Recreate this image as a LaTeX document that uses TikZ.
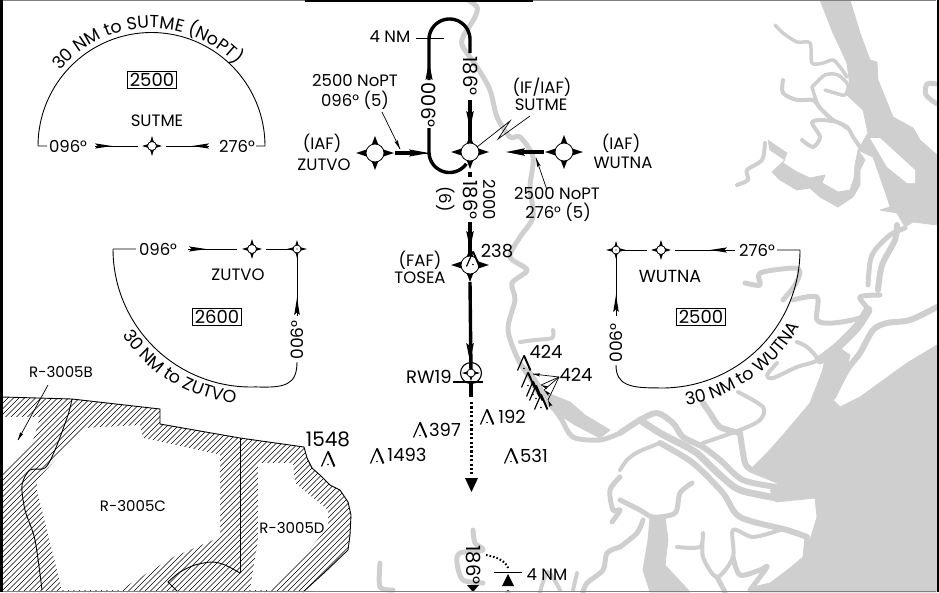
\documentclass[tikz,border=0pt]{standalone}
\usepackage{fontspec}
\setmainfont{Poppins}
\usetikzlibrary{decorations.text}
\definecolor{water}{HTML}{CFCFCF}
\newcommand\chartfont{\fontsize{16.5}{18}\selectfont}
\newcommand\arcfont{\fontsize{17.5}{19}\selectfont}
\newcommand\fixm[5]{% name, radius, Lx, Ly, dot
  \fill[shift={(#1)}] (#3,0)--({.52*#2},{.52*#2})--(0,#4)--({-.52*#2},{.52*#2})--(-#3,0)--({-.52*#2},{-.52*#2})--(0,-#4)--({.52*#2},{-.52*#2})--cycle;
  \draw[fill=white,line width=.8] (#1) circle[radius=#2];
  #5}
\newcommand\ahd[4]{\fill[shift={(#1)},rotate=#2] (0,0)--(-#3,#4)--({-.85*#3},0)--(-#3,-#4)--cycle;}
\newcommand\obst[2]{\begin{scope}[shift={(#1,#2)}]
  \draw[line width=1.2] (-6.5,7.5)--(0,-7.5);\draw[line width=1.9] (0,-7.5)--(6.5,7.5);\fill (0,5.5) circle[radius=.9];\end{scope}}
\tikzset{
  river/.style={draw=water,line width=#1,line join=round,line cap=round},
  land/.style={fill=water,draw=water,line width=.8,line join=round},
  thick course/.style={line width=3.4},
  thin course/.style={line width=.9},
  lead/.style={line width=.7},
  hatchline/.style={line width=.6},
  bound/.style={line width=.9},
  minbox/.style={draw,line width=.8,minimum width=49,minimum height=17,inner sep=0,font=\fontsize{18}{18}\selectfont},
  bignum/.style={font=\fontsize{18}{20}\selectfont},
  course/.style={rotate=#1,font=\fontsize{19.5}{21}\selectfont},
  arealabel/.style={font=\fontsize{15}{17}\selectfont},
  every node/.style={font=\chartfont,inner sep=1},
}
\begin{document}
\begin{tikzpicture}[x=1pt,y=-1pt]
\chartfont
\useasboundingbox (0,0) rectangle (939,592);
% water
\fill[land] (820,0)--(850,0)--(860,33)--(870,60)--(877,62)--(878,80)--(893,117)--(913,128)--(920,140)--(937,155)--(937,225)--(913,222)--(905,227)--(897,213)--(880,210)--(890,207)--(887,197)--(873,157)--(858,150)--(868,133)--(863,110)--(847,95)--(850,87)--(847,63)--(833,33)--cycle;
\fill[white] (870,138)--(880,138)--(915,170)--(915,183)--(907,183)--(887,167)--cycle;
\fill[land] (768,140)--(775,145)--(787,153)--(783,163)--(797,172)--(810,178)--(825,175)--(822,183)--(838,192)--(850,190)--(854,178)--(855,165)--(858,150)--(865,160)--(860,170)--(860,185)--(853,197)--(838,207)--(820,197)--(810,188)--(797,190)--(780,180)--(772,172)--(785,160)--(770,150)--cycle;
\fill[land] (937,345)--(907,363)--(860,397)--(840,407)--(830,397)--(847,368)--(850,355)--(838,347)--(825,360)--(822,372)--(810,403)--(783,435)--(767,453)--(753,467)--(750,472)--(777,483)--(778,488)--(770,490)--(776,502)--(815,498)--(817,517)--(810,540)--(805,537)--(803,557)--(790,568)--(770,583)--(753,587)--(750,592)--(937,592)--cycle;
\fill[land] (650,517)--(665,517)--(668,540)--(665,565)--(690,592)--(650,592)--(643,570)--(648,540)--cycle;
\draw[river=3.5] plot[smooth] coordinates {(775,25)(783,33)(797,42)(810,43)(812,63)(823,63)(833,60)(840,67)(847,77)};
\draw[river=4] plot[smooth] coordinates {(783,80)(783,93)(797,100)(813,100)(820,108)(833,120)(847,127)(853,137)(860,147)};
\draw[river=3.5] plot[smooth] coordinates {(812,87)(825,75)(838,75)(848,85)(845,95)(835,93)(825,90)};
\draw[river=3.5] plot[smooth] coordinates {(812,87)(816,100)(820,108)};
\draw[river=4] plot[smooth] coordinates {(802,140)(813,147)(820,137)(812,123)(820,120)(837,122)(847,128)};
\draw[river=4] plot[smooth] coordinates {(765,143)(762,160)(747,170)(748,180)(737,185)};
\draw[river=5] plot[smooth] coordinates {(937,84)(927,84)(926,95)(937,104)};
\draw[river=5] plot[smooth] coordinates {(905,228)(890,235)(875,250)(870,262)(868,285)};
\draw[river=6] plot[smooth] coordinates {(897,225)(895,240)(882,265)(878,290)};
\draw[river=5] plot[smooth] coordinates {(745,283)(760,285)(760,273)(793,268)(800,272)(795,285)(783,300)};
\draw[river=5] plot[smooth] coordinates {(793,300)(817,297)(817,320)(833,323)(860,318)(868,310)(860,297)(880,295)};
\draw[river=9] plot[smooth] coordinates {(868,310)(857,327)(837,347)(820,360)};
\draw[river=6] plot[smooth] coordinates {(937,307)(910,320)(887,323)(873,330)(860,353)(847,370)(833,397)};
\draw[river=4] plot[smooth] coordinates {(797,342)(807,347)(817,360)(797,367)(773,378)(767,375)(777,363)};
\draw[river=4] plot[smooth] coordinates {(738,392)(763,407)(760,420)(740,430)(703,443)};
\draw[river=6] plot[smooth] coordinates {(703,403)(710,413)(720,427)(740,433)};
\draw[river=6] plot[smooth] coordinates {(740,433)(745,463)(752,470)};
\draw[river=6] plot[smooth] coordinates {(620,433)(640,420)(657,413)(673,423)(683,437)(703,447)(720,460)(743,480)(777,487)};
\draw[river=7] plot[smooth] coordinates {(640,420)(660,433)(687,447)(697,453)(720,475)(740,490)(777,498)};
\draw[river=6] plot[smooth] coordinates {(660,443)(693,463)(723,493)(740,517)(787,530)(807,537)};
\draw[river=4] plot[smooth] coordinates {(620,470)(627,460)(638,452)(660,443)};
\draw[river=5] plot[smooth] coordinates {(692,483)(680,493)(675,513)(653,517)(640,510)(620,500)};
\draw[river=5] plot[smooth] coordinates {(620,547)(637,533)(643,520)};
\draw[river=4] plot[smooth] coordinates {(677,547)(700,547)(703,533)(703,557)(717,577)(733,557)(733,530)(753,537)(780,530)};
\draw[river=5] plot[smooth] coordinates {(717,577)(725,592)};
\draw[river=5] plot[smooth] coordinates {(733,557)(740,575)(760,570)(767,567)(750,590)};
\draw[river=5] plot[smooth] coordinates {(468,0)(477,7)(475,17)(463,37)(463,47)(477,67)(490,90)(497,117)(510,137)(520,137)(533,157)(530,187)(533,217)(520,237)(510,257)(527,270)(512,283)(515,300)(508,330)(520,363)(540,390)(560,417)(573,437)(600,440)(620,433)};
\fill[land] (520,362)--(532,372)--(545,392)--(570,402)--(585,415)--(610,430)--(600,438)--(575,425)--(552,410)--(535,392)--cycle;
\draw[river=4] plot[smooth] coordinates {(553,330)(552,338)(535,340)(520,342)};
\draw[river=5] plot[smooth] coordinates {(473,530)(475,543)(483,550)(460,553)(457,563)(463,580)(483,583)};
\draw[river=5] plot[smooth] coordinates {(380,563)(380,587)(393,590)};
\draw[river=5] plot[smooth] coordinates {(620,477)(610,490)(613,510)(620,510)(612,522)};
\draw[river=5] plot[smooth] coordinates {(620,547)(607,553)(603,570)(587,583)(583,592)};
\draw[river=4] plot[smooth] coordinates {(577,573)(573,590)};
\draw[river=4] plot[smooth] coordinates {(540,592)(548,572)(560,590)};
% restricted areas
\begin{scope}
\clip (3,397)--(72,399)--(160,409)--(160,424)--(240,438)--(304,447)--(307,458)--(312,468)--(320,475)--(330,485)--(340,490)--(348,502)--(351,515)--(350,535)--(348,550)--(325,572)--(303,592)--(3,592)--cycle;
\foreach \i in {-260,-254.5,...,360} \draw[hatchline] (\i,600)--++(260,-260);
\end{scope}
\fill[white] (85,428)--(140,425)--(143,438)--(220,455)--(220,537)--(173,557)--(120,590)--(62,590)--(37,490)--(37,480)--cycle;
\fill[white] (258,463)--(293,463)--(295,483)--(328,510)--(328,527)--(300,560)--(270,590)--(250,590)--(258,540)--cycle;
\fill[white] (3,417)--(40,417)--(33,440)--(3,472)--cycle;
\draw[bound] (3,397)--(72,399)--(160,409)--(160,424)--(240,438)--(304,447)--(307,458)--(312,468)--(320,475)--(330,485)--(340,490)--(348,502)--(351,515)--(350,535)--(348,550)--(325,572)--(303,592);
\draw[bound] (240,438)--(240,573);
\draw[bound] plot[smooth] coordinates {(240,573)(225,565)(212,562)(195,565)(180,572)(168,582)} --(178,592);
\draw[bound] plot[smooth] coordinates {(72,399)(68,415)(55,450)(45,468)(30,470)(22,485)(25,510)(35,540)(42,590)};
\coordinate (rbs) at (48,385);\coordinate (rbe) at (18,440);
\draw[lead] (rbs)--(rbe);\ahd{rbe}{-118}{8}{1.8}
\node[arealabel] (rb) at (61,372) {R-3005B};
\node[arealabel] (rc) at (133,506) {R-3005C};
\node[arealabel] (rd) at (292,528) {R-3005D};
% SUTME entry sector
\begingroup\arcfont
\path[decorate,decoration={text along path,text align=center,text={30 NM to SUTME (NoPT)}}] plot[domain=172:12,samples=90] ({151+118*cos(\x)},{146-118*sin(\x)});
\path[decorate,decoration={text along path,text align=center,text={30 NM to ZUTVO}}] plot[domain=190:288,samples=70] ({251+155*cos(\x)},{249-155*sin(\x)});
\path[decorate,decoration={text along path,text align=center,text={30 NM to WUTNA}}] plot[domain=255:355,samples=70] ({662+157*cos(\x)},{250-157*sin(\x)});
\endgroup
\draw[bound] (47,146)--(38,146) plot[domain=180:0,samples=80] ({151.5+113.5*cos(\x)},{146-113.5*sin(\x)}) --(256,146);
\node[minbox] (b1) at (152,80) {2500};
\node (s1) at (157,121) {SUTME};
\coordinate (fs) at (152,146);
\node (d1) at (68,146) {096°};
\node (d2) at (237,146) {276°};
\coordinate (a1) at (95,146);\coordinate (a2) at (112,146);\coordinate (a3) at (138,146);
\coordinate (c1) at (209,146);\coordinate (c2) at (192,146);\coordinate (c3) at (166,146);
\draw[thin course] (a1)--(a3) (c1)--(c3);\ahd{a2}{0}{17}{2.6}\ahd{c2}{180}{17}{2.6}
\fixm{fs}{4.5}{10}{10}{}
% ZUTVO sector
\coordinate (zc) at (113,249);
\draw[bound] (136,249)--(zc) plot[domain=180:272,samples=50] ({251+138*cos(\x)},{249-138*sin(\x)}) .. controls (285,388) and (297,385) .. (297,362);
\node (z1) at (158,249) {096°};
\coordinate (z2) at (188,249);\coordinate (z3) at (206,249);\coordinate (z4) at (237,249);\coordinate (fz1) at (252,249);\coordinate (z5) at (266,249);\coordinate (fz2) at (297,249);\coordinate (z6) at (290,249);\coordinate (z7) at (297,316);\coordinate (z8) at (297,298);
\draw[thin course] (z2)--(z4) (z5)--(z6) (fz2)--(z7);\ahd{z3}{0}{17}{2.6}\ahd{z8}{90}{17}{2.8}
\fixm{fz1}{4.5}{10}{10}{}
\fixm{fz2}{4}{10}{9}{\fill (fz2) circle[radius=.7];}
\node (z9) at (238,275) {ZUTVO};
\node[minbox] (b2) at (217,317) {2600};
\node[rotate=90,font=\fontsize{17}{18}\selectfont] (z10) at (297,340) {006°};
% WUTNA sector
\coordinate (wc) at (800,250);
\draw[bound] (777,250)--(wc) plot[domain=0:-92,samples=60] ({662+138*cos(\x)},{250-138*sin(\x)}) .. controls (630,388) and (616,385) .. (616,365);
\node (w1) at (757,250) {276°};
\coordinate (w2) at (735,250);\coordinate (w3) at (710,250);\coordinate (w4) at (675,250);\coordinate (fw1) at (661,250);\coordinate (w5) at (647,250);\coordinate (fw2) at (616,250);\coordinate (w6) at (623,250);\coordinate (w7) at (616,316);\coordinate (w8) at (616,295);
\draw[thin course] (w2)--(w4) (w5)--(w6) (fw2)--(w7);\ahd{w3}{180}{17}{2.6}\ahd{w8}{90}{17}{2.8}
\fixm{fw1}{4.5}{10}{10}{}
\fixm{fw2}{4}{10}{9}{\fill (fw2) circle[radius=.7];}
\node[font=\fontsize{17.5}{18}\selectfont] (w9) at (670,276) {WUTNA};
\node[minbox] (b3) at (701,317) {2500};
\node[rotate=90,font=\fontsize{17}{18}\selectfont] (w10) at (616,343) {006°};
% holding pattern and final
\coordinate (su) at (470,152);\coordinate (zu) at (375,153);\coordinate (wu) at (564,152);\coordinate (to) at (470,265);
\coordinate (hl1) at (429,80);\coordinate (hl2) at (429,39.5);\coordinate (hr1) at (470,39.5);\coordinate (hr2) at (470,53);
\draw[thick course] (hl1)--(hl2) plot[domain=180:0,samples=40] ({449.5+20.5*cos(\x)},{39.5-20.5*sin(\x)}) --(hr2);
\ahd{429,62}{90}{18}{3.6}
\coordinate (hr3) at (470,100);
\draw[thick course] (hr3)--(su);\ahd{470,129}{-90}{18}{3.8}
\coordinate (hl3) at (429,128);
\draw[thick course] (hl3)--(429,152) plot[domain=180:325,samples=30] ({449.5+20.5*cos(\x)},{152+20.5*sin(-\x+360)});
\coordinate (zt) at (395,153);\coordinate (zh) at (429,153);
\draw[thick course] (zt)--(415,153);\draw[line width=.9] (415,153)--(zh);\ahd{zh}{0}{20}{3.6}
\coordinate (wt) at (544,152);\coordinate (wh) at (506,152);
\draw[thick course] (wt)--(520,152);\ahd{wh}{180}{19}{3.8}
\coordinate (f1) at (470,172);\coordinate (f2) at (470,177);
\draw[thick course] (f1)--(f2);
\coordinate (f3) at (470,222);
\draw[thick course] (f3)--(to);\ahd{470,249}{-90}{18}{3.8}
\coordinate (f4) at (470,282);\coordinate (rw) at (471,373);
\draw[thick course] (f4)--(rw);\ahd{470,362}{-90}{19}{3.8}
\fixm{su}{9}{19}{17}{}
\fixm{zu}{9}{19}{17}{}
\fixm{wu}{9}{19}{17}{}
\fixm{to}{9}{19}{17}{}
\draw[line width=1.1] (rw) circle[radius=10.5];
\fixm{rw}{4}{9}{8}{}
\coordinate (bl) at (453,382);\coordinate (br) at (483,382);\coordinate (bm) at (471,382);\coordinate (bn) at (471,397);
\draw[line width=1.4] (bl)--(br);\draw[thick course] (bm)--(bn);
\coordinate (m1) at (471.5,402);\coordinate (m2) at (471.5,474);\coordinate (m3) at (471.5,492);
\draw[line width=3.4,dash pattern=on 2.2 off 2.2] (m1)--(m2);
\fill (465,478)--(478,478)--(m3)--cycle;
% leaders
\coordinate (l1) at (382,112);\coordinate (l2) at (400,149);
\draw[lead] (l1)--(l2);\ahd{l2}{-64}{9}{1.8}
\coordinate (l3) at (547,190);\coordinate (l4) at (536,158);
\draw[lead] (l3)--(l4);\ahd{l4}{109}{9}{1.8}
\coordinate (l5) at (530,116);\coordinate (l6) at (498,139);\coordinate (l7) at (510,121);\coordinate (l8) at (477,147);
\draw[lead] (l5)--(l6)--(l7)--(l8);
\coordinate (t1) at (416,38);\coordinate (t2) at (444,38);
\draw[lead] (t1)--(t2);
% labels
\node (n1) at (390,37) {4 NM};
\node (n2) at (355,80) {2500 NoPT};
\node (n3) at (355,100) {096° (5)};
\node (n4) at (322,143) {(IAF)};
\node (n5) at (324,165) {ZUTVO};
\node (n6) at (542,87) {(IF/IAF)};
\node (n7) at (541,105) {SUTME};
\node (n8) at (621,143) {(IAF)};
\node (n9) at (623,163) {WUTNA};
\node (n10) at (557,193) {2500 NoPT};
\node (n11) at (558,212) {276° (5)};
\node[course=-90] (n12) at (470,76) {186°};
\node[course=-90] (n13) at (429,105) {006°};
\node[course=-90] (n14) at (470,200) {186°};
\node[rotate=-90] (n15) at (446,199) {(6)};
\node[rotate=-90] (n16) at (490,200) {2000};
\node (n17) at (420,260) {(FAF)};
\node (n18) at (420,278) {TOSEA};
\node[bignum] (n19) at (497,251) {238};
\node[bignum] (n20) at (429,377) {RW19};
\node[bignum] (n21) at (546,352) {424};
\node[bignum] (n22) at (576,375) {424};
\node[bignum] (n23) at (512,417) {192};
\node[bignum] (n24) at (445,430) {397};
\node[bignum] (n25) at (407,455) {1493};
\node[bignum] (n26) at (534,456) {531};
\node[font=\fontsize{20}{21}\selectfont] (n27) at (328,439) {1548};
\node[course=-90] (n28) at (473,565) {186°};
\node (n29) at (547,575) {4 NM};
% obstacles
\obst{473}{259}
\obst{524}{363}
\obst{528}{380}\obst{533}{389}\obst{536}{393}\obst{541}{402}
\obst{487}{417}\obst{420}{430}\obst{377}{456}\obst{511}{456}
\obst{328}{459}
\coordinate (o0) at (559,377);
\foreach \tx/\ty/\a/\l in {533/374/173/1,541/385/156/2,544/390/139/3,548/400/115/4}{
 \coordinate (ot\l) at (\tx,\ty);
 \draw[lead] (o0)--(ot\l);\ahd{ot\l}{\a}{7}{1.6}}
% bottom of plan view
\coordinate (hb) at (473,588);\fill (467,585)--(479,585)--(473,592)--cycle;
\draw[line width=2,dash pattern=on 1.6 off 2] plot[smooth] coordinates {(486,555)(497,558)(505,563)(508,568)};
\coordinate (k1) at (494,572);\coordinate (k2) at (522,572);
\draw[lead] (k1)--(k2);
\fill (508,574)--(502,586)--(514,586)--cycle;
\fill (505,592)--(508,590)--(511,592)--cycle;
% frame
\fill (0,0) rectangle (3,592);
\fill (936.5,0) rectangle (939,592);
\fill[gray] (3,0) rectangle (936,1);
\fill[gray] (3,591) rectangle (936,592);
\fill (305,0) rectangle (533,1.5);
\end{tikzpicture}
\end{document}
